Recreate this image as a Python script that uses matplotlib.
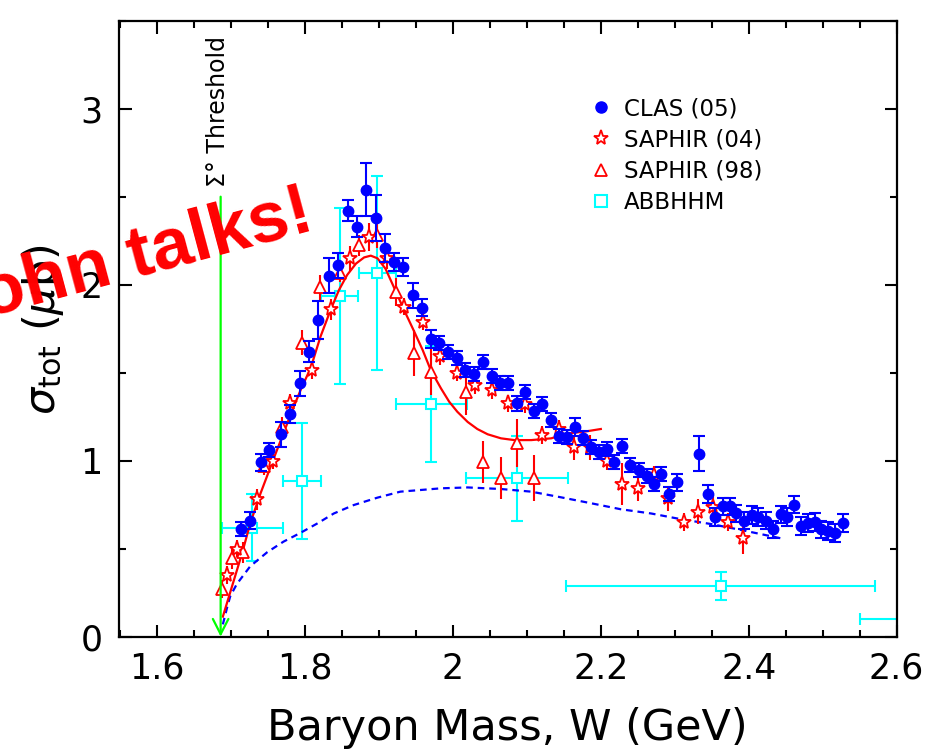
import matplotlib
matplotlib.use("Agg")
import matplotlib.pyplot as plt
from matplotlib.lines import Line2D
from matplotlib.ticker import MultipleLocator

# CLAS (05)
clas_w = [1.713, 1.726, 1.740, 1.752, 1.767, 1.780, 1.793, 1.805, 1.818, 1.832,
          1.845, 1.858, 1.871, 1.883, 1.896, 1.908, 1.920, 1.933, 1.946, 1.958,
          1.970, 1.981, 1.994, 2.005, 2.017, 2.029, 2.041, 2.053, 2.064, 2.075,
          2.086, 2.098, 2.109, 2.121, 2.132, 2.143, 2.154, 2.165, 2.176, 2.187,
          2.198, 2.208, 2.218, 2.229, 2.240, 2.251, 2.262, 2.272, 2.282, 2.292,
          2.303, 2.333, 2.345, 2.355, 2.365, 2.374, 2.383, 2.394, 2.404, 2.413,
          2.423, 2.433, 2.443, 2.452, 2.461, 2.471, 2.480, 2.489, 2.498, 2.507,
          2.517, 2.527]
clas_sig = [0.61, 0.66, 0.99, 1.06, 1.15, 1.265, 1.44, 1.62, 1.80, 2.05,
            2.11, 2.42, 2.33, 2.54, 2.38, 2.21, 2.13, 2.10, 1.94, 1.87,
            1.69, 1.67, 1.62, 1.585, 1.515, 1.49, 1.56, 1.48, 1.44, 1.44,
            1.325, 1.39, 1.28, 1.32, 1.23, 1.14, 1.136, 1.19, 1.13, 1.076,
            1.05, 1.065, 0.994, 1.085, 0.976, 0.947, 0.915, 0.866, 0.923, 0.81,
            0.877, 1.04, 0.81, 0.68, 0.74, 0.74, 0.70, 0.66, 0.69, 0.68,
            0.66, 0.61, 0.695, 0.68, 0.75, 0.63, 0.645, 0.65, 0.61, 0.60,
            0.59, 0.645]
clas_err = [0.04, 0.05, 0.05, 0.04, 0.07, 0.05, 0.07, 0.06, 0.11, 0.10,
            0.07, 0.06, 0.06, 0.15, 0.13, 0.08, 0.05, 0.05, 0.07, 0.05,
            0.05, 0.04, 0.04, 0.04, 0.04, 0.04, 0.04, 0.04, 0.04, 0.04,
            0.04, 0.04, 0.04, 0.04, 0.04, 0.04, 0.04, 0.05, 0.04, 0.04,
            0.04, 0.04, 0.04, 0.04, 0.04, 0.04, 0.04, 0.04, 0.04, 0.04,
            0.05, 0.10, 0.05, 0.05, 0.05, 0.05, 0.05, 0.05, 0.05, 0.05,
            0.05, 0.05, 0.05, 0.05, 0.05, 0.05, 0.05, 0.05, 0.05, 0.05,
            0.05, 0.05]

# SAPHIR (04)
saphir04_w = [1.695, 1.708, 1.735, 1.757, 1.780, 1.809, 1.835, 1.861, 1.886, 1.911,
              1.934, 1.959, 1.982, 2.006, 2.030, 2.053, 2.075, 2.098, 2.121, 2.143,
              2.164, 2.186, 2.208, 2.229, 2.250, 2.272, 2.291, 2.312, 2.332, 2.352,
              2.372, 2.392]
saphir04_sig = [0.35, 0.50, 0.78, 1.00, 1.33, 1.515, 1.86, 2.15, 2.27, 2.15,
                1.875, 1.79, 1.595, 1.50, 1.43, 1.40, 1.325, 1.32, 1.146, 1.18,
                1.076, 1.076, 0.998, 0.866, 0.843, 0.92, 0.786, 0.65, 0.71, 0.735,
                0.653, 0.56]
saphir04_err = [0.05, 0.05, 0.06, 0.05, 0.05, 0.05, 0.06, 0.07, 0.08, 0.06,
                0.05, 0.05, 0.05, 0.05, 0.05, 0.05, 0.05, 0.05, 0.05, 0.05,
                0.07, 0.07, 0.05, 0.12, 0.07, 0.05, 0.07, 0.05, 0.07, 0.07,
                0.05, 0.09]

# SAPHIR (98)
saphir98_w = [1.688, 1.702, 1.716, 1.744, 1.769, 1.796, 1.821, 1.847, 1.873, 1.898,
              1.923, 1.947, 1.970, 2.018, 2.041, 2.065, 2.086, 2.109]
saphir98_sig = [0.27, 0.445, 0.48, 0.97, 1.19, 1.67, 1.985, 2.065, 2.225, 2.28,
                1.96, 1.61, 1.506, 1.39, 0.994, 0.90, 1.10, 0.90]
saphir98_err = [0.05, 0.06, 0.06, 0.05, 0.06, 0.07, 0.07, 0.05, 0.06, 0.07,
                0.08, 0.13, 0.13, 0.13, 0.12, 0.12, 0.135, 0.13]

# ABBHHM
abb_w = [1.729, 1.796, 1.847, 1.898, 1.971, 2.087, 2.362, 2.76]
abb_werr = [0.041, 0.026, 0.025, 0.025, 0.048, 0.069, 0.209, 0.21]
abb_sig = [0.62, 0.885, 1.935, 2.065, 1.32, 0.90, 0.29, 0.10]
abb_err = [0.19, 0.33, 0.50, 0.55, 0.33, 0.24, 0.08, 0.05]

# model curves
red_w = [1.689, 1.704, 1.715, 1.726, 1.740, 1.757, 1.771, 1.783, 1.794, 1.808,
         1.821, 1.835, 1.846, 1.857, 1.869, 1.880, 1.889, 1.898, 1.909, 1.923,
         1.934, 1.947, 1.959, 1.970, 1.984, 1.995, 2.006, 2.020, 2.033, 2.047,
         2.065, 2.083, 2.106, 2.133, 2.155, 2.178, 2.200]
red_sig = [0.114, 0.322, 0.474, 0.644, 0.815, 1.004, 1.156, 1.288, 1.40, 1.53,
           1.705, 1.86, 1.97, 2.055, 2.12, 2.155, 2.165, 2.15, 2.09, 1.96,
           1.856, 1.74, 1.63, 1.515, 1.41, 1.335, 1.278, 1.22, 1.18, 1.15,
           1.127, 1.117, 1.117, 1.127, 1.155, 1.165, 1.18]
blue_w = [1.689, 1.695, 1.699, 1.708, 1.726, 1.749, 1.771, 1.794, 1.817, 1.839,
          1.866, 1.898, 1.929, 1.984, 2.020, 2.065, 2.106, 2.146, 2.187, 2.227,
          2.268, 2.309, 2.349, 2.390, 2.448]
blue_sig = [0.07, 0.17, 0.23, 0.30, 0.40, 0.48, 0.54, 0.59, 0.644, 0.70,
            0.748, 0.79, 0.824, 0.843, 0.848, 0.839, 0.824, 0.792, 0.758, 0.724,
            0.70, 0.667, 0.64, 0.606, 0.555]

threshold_w = 1.686
threshold_top = 2.5

fig = plt.figure(figsize=(9.27, 7.5), dpi=100)
ax = fig.add_axes([0.1287, 0.1511, 0.8386, 0.8213])

ax.errorbar(abb_w, abb_sig, xerr=abb_werr, yerr=abb_err, fmt='s', ms=7,
            mfc='white', mec='cyan', mew=1.5, ecolor='cyan', elinewidth=1.5,
            capsize=4, capthick=1.5, zorder=2)
ax.plot(blue_w, blue_sig, color='blue', lw=1.6, ls=(0, (3, 2.2)), zorder=3)
ax.plot(red_w, red_sig, color='red', lw=1.6, zorder=3)
ax.errorbar(saphir98_w, saphir98_sig, yerr=saphir98_err, fmt='^', ms=9,
            mfc='white', mec='red', mew=1.3, ecolor='red', elinewidth=1.5,
            capsize=0, zorder=4)
ax.errorbar(saphir04_w, saphir04_sig, yerr=saphir04_err, fmt='*', ms=11,
            mfc='white', mec='red', mew=1.3, ecolor='red', elinewidth=1.5,
            capsize=0, zorder=5)
ax.errorbar(clas_w, clas_sig, yerr=clas_err, fmt='o', ms=7.5, color='blue',
            ecolor='blue', elinewidth=1.5, capsize=4, capthick=1.5, zorder=6)

# threshold arrow
ax.annotate('', xy=(threshold_w, 0), xytext=(threshold_w, threshold_top),
            arrowprops=dict(arrowstyle='->,head_length=0.55,head_width=0.28',
                            color='#00ff00', lw=1.6, mutation_scale=20,
                            shrinkA=0, shrinkB=0), zorder=7)
fig.text(218 / 927, 1 - 187 / 750, 'Σ° Threshold', rotation=90,
         ha='center', va='bottom', fontsize=17)

ax.set_xlim(1.549, 2.6)
ax.set_ylim(0, 3.5)
ax.xaxis.set_major_locator(MultipleLocator(0.2))
ax.xaxis.set_minor_locator(MultipleLocator(0.05))
ax.yaxis.set_major_locator(MultipleLocator(1))
ax.yaxis.set_minor_locator(MultipleLocator(0.5))
ax.tick_params(which='both', direction='in', top=True, right=True, width=1.5)
ax.tick_params(which='major', length=9, labelsize=25)
ax.tick_params(axis='x', which='major', pad=11)
ax.tick_params(axis='y', which='major', pad=12)
ax.tick_params(which='minor', length=5)
ax.set_xticks([1.6, 1.8, 2.0, 2.2, 2.4, 2.6])
ax.set_xticklabels(['1.6', '1.8', '2', '2.2', '2.4', '2.6'])
for s in ax.spines.values():
    s.set_linewidth(1.6)

fig.text(507 / 927, 1 - 740 / 750, 'Baryon Mass, W (GeV)', ha='center',
         va='baseline', fontsize=31)
fig.text(43 / 927, 1 - 330 / 750, r'$\sigma_{\rm tot}$ ($\mu$b)', rotation=90,
         ha='center', va='center', fontsize=31)

handles = [
    Line2D([], [], ls='none', marker='o', ms=8, color='blue'),
    Line2D([], [], ls='none', marker='*', ms=11, mfc='white', mec='red', mew=1.3),
    Line2D([], [], ls='none', marker='^', ms=9, mfc='white', mec='red', mew=1.3),
    Line2D([], [], ls='none', marker='s', ms=8, mfc='white', mec='cyan', mew=1.5),
]
labels = ['CLAS (05)', 'SAPHIR (04)', 'SAPHIR (98)', 'ABBHHM']
ax.legend(handles, labels, loc='upper left', bbox_to_anchor=(0.6045, 0.876),
          frameon=False, fontsize=16.5, handlelength=1.0, handletextpad=0.5,
          labelspacing=0.36, borderaxespad=0, borderpad=0)

# overlay stamp, deliberately running off the left edge as in the source
fig.text(316 / 927, 1 - 229 / 750, 'John talks!', rotation=15,
         rotation_mode='anchor', ha='right', va='baseline', color='red',
         fontsize=52, fontweight='bold', family='Liberation Sans', zorder=10)

fig.savefig('out.png', dpi=100)
